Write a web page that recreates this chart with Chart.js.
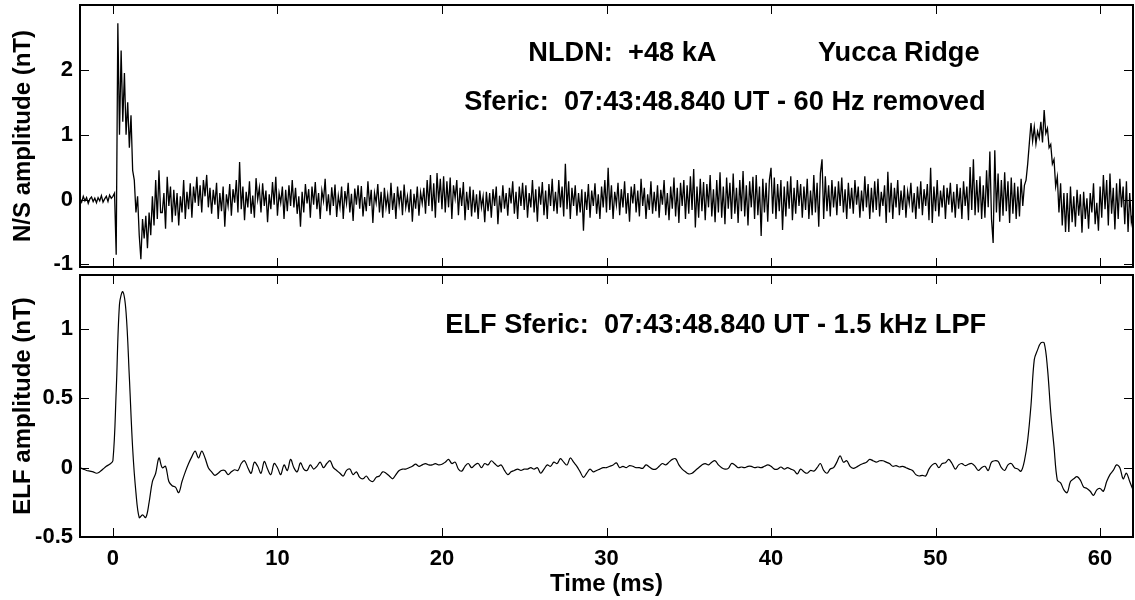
<!DOCTYPE html>
<html>
<head>
<meta charset="utf-8">
<title>Sferic waveforms</title>
<script src="https://cdn.jsdelivr.net/npm/chart.js@4/dist/chart.umd.min.js"></script>
<style>
  html, body { margin: 0; padding: 0; background: #fff; }
  .panel { position: absolute; left: 0; width: 1135px; }
  #nsPanel { top: 0; height: 270px; }
  #elfPanel { top: 270px; height: 330px; }
</style>
</head>
<body>
<div class="panel" id="nsPanel"><canvas id="nsChart" width="1135" height="270"></canvas></div>
<div class="panel" id="elfPanel"><canvas id="elfChart" width="1135" height="330"></canvas></div>
<script>
// Two stacked panels: broadband N/S sferic (60 Hz removed) and its 1.5 kHz low-passed ELF part

var X_TICKS = [0, 10, 20, 30, 40, 50, 60];
var NS_Y_TICKS = [-1, 0, 1, 2];
var ELF_Y_TICKS = [-0.5, 0, 0.5, 1];

// N/S record, one sample every 0.1 ms starting at -2 ms
var NS_T0 = -2;
var NS_DT = 0.1;
var NS_VALUES = [
  0.02, -0.04, 0.05, -0.02, 0.03, -0.06, 0.01, 0.04, -0.03, 0.02,   // -2 ms
  -0.05, 0.03, -0.02, 0.06, -0.04, 0.01, 0.05, -0.03, 0.07, 0.02,   // -1
  0.05, 0.1, -0.85, 2.72, 1.0, 2.3, 1.2, 1.95, 1.0, 1.5,            // 0
  0.8, 1.3, 0.45, 0.3, -0.2, 0.05, -0.55, -0.92, -0.3, -0.6,        // 1
  -0.25, -0.75, -0.2, -0.55, 0.05, -0.4, 0.3, -0.3, 0.45, -0.2,     // 2
  -0.2, 0.1, -0.45, 0.35, -0.1, 0.2, -0.35, 0.15, -0.25, 0.1,       // 3
  -0.4, 0.05, -0.2, 0.3, -0.3, 0.12, -0.15, 0.25, -0.28, 0.2,       // 4
  -0.05, 0.35, -0.1, 0.22, -0.2, 0.3, 0.05, 0.38, -0.12, 0.18,      // 5
  -0.22, 0.15, -0.08, 0.26, -0.3, 0.1, -0.18, 0.2, -0.42, 0.08,     // 6
  -0.1, 0.24, -0.25, 0.16, -0.05, 0.3, -0.2, 0.58, -0.15, 0.2,      // 7
  -0.32, 0.12, -0.12, 0.28, -0.22, 0.06, -0.28, 0.33, 0.0, 0.18,    // 8
  -0.2, 0.25, -0.1, 0.14, -0.35, 0.08, -0.15, 0.27, -0.08, 0.35,    // 9
  -0.25, 0.1, -0.05, 0.2, -0.3, 0.15, -0.18, 0.22, -0.1, 0.3,       // 10
  -0.12, 0.18, -0.22, 0.05, -0.42, 0.12, -0.2, 0.24, -0.06, 0.16,   // 11
  -0.28, 0.2, -0.08, 0.27, -0.15, 0.1, -0.3, 0.14, -0.02, 0.32,     // 12
  -0.18, 0.08, -0.24, 0.19, -0.1, 0.23, -0.27, 0.06, -0.12, 0.2,    // 13
  -0.3, 0.13, -0.06, 0.26, -0.2, 0.09, -0.33, 0.17, -0.08, 0.22,    // 14
  -0.14, 0.21, -0.26, 0.04, -0.18, 0.28, -0.1, 0.15, -0.36, 0.1,    // 15
  -0.05, 0.24, -0.2, 0.12, -0.28, 0.18, -0.12, 0.07, -0.22, 0.26,   // 16
  -0.16, 0.1, -0.3, 0.2, -0.08, 0.14, -0.24, 0.23, -0.12, 0.05,     // 17
  -0.2, 0.16, -0.34, 0.09, -0.14, 0.2, -0.25, 0.11, -0.06, 0.18,    // 18
  -0.22, 0.3, -0.1, 0.38, -0.18, 0.25, -0.28, 0.41, -0.05, 0.32,    // 19
  -0.15, 0.36, -0.2, 0.28, -0.12, 0.34, -0.3, 0.22, 0.02, 0.3,      // 20
  -0.24, 0.18, -0.1, 0.27, -0.32, 0.12, -0.16, 0.2, -0.26, 0.15,    // 21
  -0.2, 0.08, -0.3, 0.14, -0.12, 0.05, -0.35, 0.12, -0.18, 0.1,     // 22
  -0.28, 0.16, -0.1, 0.2, -0.38, 0.06, -0.2, 0.22, -0.14, 0.1,      // 23
  -0.25, 0.18, -0.06, 0.28, -0.22, 0.12, -0.3, 0.2, -0.1, 0.26,     // 24
  -0.16, 0.22, -0.28, 0.1, -0.12, 0.3, -0.2, 0.16, -0.34, 0.2,      // 25
  -0.08, 0.27, -0.24, 0.14, -0.3, 0.24, -0.1, 0.32, -0.18, 0.12,    // 26
  -0.22, 0.3, -0.12, 0.2, -0.26, 0.55, -0.15, 0.28, -0.3, 0.18,     // 27
  -0.1, 0.22, -0.25, 0.1, -0.2, 0.16, -0.48, 0.12, -0.16, 0.24,     // 28
  -0.28, 0.14, -0.1, 0.25, -0.22, 0.08, -0.3, 0.2, -0.12, 0.3,      // 29
  -0.2, 0.49, -0.16, 0.22, -0.3, 0.12, -0.08, 0.26, -0.24, 0.16,    // 30
  -0.12, 0.28, -0.22, 0.1, -0.34, 0.2, -0.06, 0.24, -0.2, 0.14,     // 31
  -0.26, 0.32, -0.1, 0.18, -0.3, 0.08, -0.16, 0.28, -0.22, 0.12,    // 32
  -0.18, 0.22, -0.28, 0.15, -0.08, 0.3, -0.24, 0.1, -0.32, 0.2,     // 33
  -0.14, 0.34, -0.26, 0.18, -0.36, 0.26, -0.1, 0.3, -0.3, 0.22,     // 34
  -0.22, 0.36, -0.16, 0.47, -0.43, 0.2, -0.28, 0.32, -0.18, 0.27,   // 35
  -0.32, 0.24, -0.12, 0.38, -0.26, 0.16, -0.35, 0.3, -0.2, 0.42,    // 36
  -0.28, 0.2, -0.38, 0.34, -0.14, 0.26, -0.3, 0.4, -0.22, 0.18,     // 37
  -0.36, 0.3, -0.18, 0.44, -0.26, 0.22, -0.4, 0.28, -0.12, 0.35,    // 38
  -0.3, 0.38, -0.24, 0.2, -0.56, 0.32, -0.2, 0.26, -0.34, 0.3,      // 39
  0.49, -0.22, 0.34, -0.3, 0.24, -0.18, 0.3, -0.47, 0.2, -0.26,     // 40
  0.28, -0.14, 0.36, -0.32, 0.18, -0.22, 0.3, -0.1, 0.24, -0.28,    // 41
  0.2, -0.16, 0.32, -0.3, 0.14, -0.24, 0.38, -0.2, 0.26, -0.42,     // 42
  0.4, 0.62, -0.3, 0.36, -0.18, 0.22, -0.26, 0.3, -0.12, 0.2,       // 43
  -0.24, 0.28, -0.1, 0.34, -0.2, 0.16, -0.3, 0.26, -0.14, 0.18,     // 44
  -0.22, 0.3, -0.08, 0.2, -0.28, 0.14, -0.18, 0.36, -0.12, 0.24,    // 45
  -0.3, 0.18, -0.2, 0.28, -0.16, 0.32, -0.26, 0.12, -0.1, 0.22,     // 46
  -0.36, 0.43, -0.2, 0.26, -0.3, 0.18, -0.12, 0.3, -0.24, 0.14,     // 47
  -0.16, 0.22, -0.28, 0.12, -0.06, 0.26, -0.2, 0.1, -0.3, 0.2,      // 48
  -0.14, 0.28, -0.24, 0.16, -0.1, 0.24, -0.32, 0.49, -0.36, 0.2,    // 49
  -0.18, 0.3, -0.26, 0.14, -0.12, 0.22, -0.3, 0.18, -0.08, 0.26,    // 50
  -0.2, 0.12, -0.28, 0.24, -0.14, 0.18, -0.3, 0.28, -0.1, 0.2,      // 51
  -0.32, 0.5, -0.16, 0.62, -0.24, 0.3, -0.2, 0.36, -0.3, 0.22,      // 52
  -0.28, 0.45, -0.12, 0.74, -0.3, -0.67, 0.76, -0.2, 0.4, -0.34,    // 53
  0.3, -0.25, 0.42, -0.18, 0.28, -0.36, 0.34, -0.22, 0.26, -0.3,    // 54
  0.2, -0.26, 0.32, -0.1, 0.22, 0.3, 0.55, 0.87, 1.18, 0.9,         // 55
  1.12, 0.86, 1.05, 0.95, 1.2, 0.88, 1.38, 1.02, 1.1, 0.8,          // 56
  0.85, 0.55, 0.62, 0.2, 0.35, -0.2, 0.25, -0.4, 0.1, -0.5,         // 57
  0.1, -0.5, 0.2, -0.35, 0.05, -0.42, 0.15, -0.25, 0.08, -0.51,     // 58
  0.12, -0.3, 0.02, -0.45, 0.1, -0.2, 0.25, -0.38, -0.05, -0.48,    // 59
  0.2, -0.28, 0.38, -0.15, 0.3, -0.4, 0.4, -0.22, 0.18, -0.46,      // 60
  0.25, -0.3, 0.32, -0.12, 0.2, -0.38, 0.28, -0.5, 0.1, -0.35,      // 61
  -0.2                                                              // 62
];

// low-passed ELF record, one sample every 0.2 ms starting at -2 ms
var ELF_T0 = -2;
var ELF_DT = 0.2;
var ELF_VALUES = [
  0.0, -0.01, -0.02, -0.025, -0.03, -0.04, -0.03, -0.01, 0.01, 0.025,       // -2 ms
  0.05, 0.55, 1.18, 1.27, 1.12, 0.65, 0.14, -0.18, -0.36, -0.34,            // 0
  -0.36, -0.25, -0.1, -0.04, 0.07, 0.0, 0.01, -0.1, -0.13, -0.14,           // 2
  -0.18, -0.1, -0.03, 0.03, 0.08, 0.12, 0.07, 0.12, 0.07, 0.0,              // 4
  -0.03, -0.055, -0.04, -0.02, -0.02, -0.05, -0.03, -0.015, -0.02, 0.03,    // 6
  0.05, 0.0, -0.04, 0.04, 0.01, -0.04, 0.045, -0.01, -0.05, 0.03,           // 8
  0.0, -0.05, 0.02, -0.02, 0.06, 0.0, -0.03, 0.035, -0.01, -0.02,           // 10
  0.02, -0.01, 0.01, 0.04, 0.0, 0.03, 0.05, 0.0, -0.02, -0.04,              // 12
  -0.06, -0.02, -0.01, -0.05, -0.03, -0.07, -0.08, -0.06, -0.09, -0.1,      // 14
  -0.07, -0.06, -0.03, -0.04, -0.06, -0.08, -0.05, -0.02, -0.01, -0.01,     // 16
  0.0, 0.01, 0.025, 0.01, 0.02, 0.03, 0.02, 0.02, 0.03, 0.02,               // 18
  0.025, 0.04, 0.06, 0.03, 0.04, -0.01, -0.025, 0.01, 0.03, 0.0,            // 20
  0.02, 0.03, 0.0, 0.03, 0.02, 0.05, 0.03, 0.01, 0.02, -0.02,               // 22
  -0.05, -0.03, -0.02, -0.01, -0.02, -0.01, -0.01, 0.0, -0.01, 0.0,         // 24
  -0.04, -0.01, 0.02, 0.01, 0.04, 0.03, 0.065, 0.04, 0.02, 0.07,            // 26
  0.04, 0.01, -0.03, -0.07, -0.04, -0.01, -0.03, -0.02, -0.01, 0.0,         // 28
  0.0, 0.01, 0.02, 0.035, 0.0, 0.01, 0.0, 0.015, 0.01, 0.0,                 // 30
  0.0, -0.005, 0.02, 0.005, -0.01, -0.01, 0.01, 0.03, 0.02, 0.04,           // 32
  0.06, 0.065, 0.02, -0.01, -0.03, -0.045, -0.04, -0.02, 0.0, 0.02,         // 34
  0.03, 0.02, 0.04, 0.05, 0.02, 0.0, -0.01, -0.005, 0.03, 0.02,             // 36
  0.0, 0.005, 0.0, 0.01, 0.01, 0.0, 0.005, 0.0, 0.01, 0.02,                 // 38
  0.01, -0.01, -0.01, 0.005, -0.01, 0.0, -0.01, -0.02, -0.045, -0.01,       // 40
  -0.03, -0.04, -0.02, -0.025, 0.0, 0.03, -0.02, -0.04, -0.01, 0.0,         // 42
  0.04, 0.085, 0.04, 0.05, 0.01, -0.005, 0.005, 0.02, 0.03, 0.04,           // 44
  0.06, 0.05, 0.04, 0.05, 0.05, 0.04, 0.03, 0.01, 0.015, 0.005,             // 46
  0.01, 0.0, -0.01, -0.02, -0.05, -0.06, -0.055, -0.06, -0.01, 0.02,        // 48
  0.03, 0.0, 0.03, 0.035, 0.06, 0.03, -0.01, 0.02, 0.03, 0.015,             // 50
  0.025, 0.03, 0.01, -0.02, 0.0, 0.01, -0.02, 0.04, 0.05, 0.045,            // 52
  0.0, -0.02, 0.02, 0.03, 0.0, -0.01, -0.025, 0.05, 0.2, 0.45,              // 54
  0.78, 0.85, 0.9, 0.9, 0.72, 0.4, 0.15, -0.09, -0.11, -0.16,               // 56
  -0.18, -0.1, -0.08, -0.065, -0.09, -0.14, -0.15, -0.17, -0.2, -0.16,      // 58
  -0.15, -0.17, -0.1, -0.05, -0.02, 0.02, 0.0, -0.08, -0.04, -0.1,          // 60
  -0.16                                                                     // 62
];

var NS_NOTES = [
  { text: 'NLDN:  +48 kA', x: 25.25, y: 2.14 },
  { text: 'Yucca Ridge', x: 42.85, y: 2.14 },
  { text: 'Sferic:  07:43:48.840 UT - 60 Hz removed', x: 21.35, y: 1.385 }
];
var ELF_NOTES = [
  { text: 'ELF Sferic:  07:43:48.840 UT - 1.5 kHz LPF', x: 20.2, y: 0.968 }
];

var FONT_FAMILY = '"Liberation Sans", Arial, Helvetica, sans-serif';
var TICK_FONT = { family: FONT_FAMILY, size: 22, weight: 'bold' };
var TITLE_FONT = { family: FONT_FAMILY, size: 24, weight: 'bold' };
var NOTE_FONT = 'bold 27.2px ' + FONT_FAMILY;

function toPoints(t0, dt, values) {
  return values.map(function(v, i) {
    return { x: Math.round((t0 + i * dt) * 1000) / 1000, y: v };
  });
}

// frame, inward tick marks on all four sides, and the text notes
var boxPlugin = {
  id: 'box',
  afterDatasetsDraw: function(chart, args, opts) {
    var ctx = chart.ctx;
    var a = chart.chartArea;
    var xs = chart.scales.x;
    var ys = chart.scales.y;
    var len = 9;
    ctx.save();
    ctx.strokeStyle = '#000';
    ctx.lineWidth = 1;
    ctx.beginPath();
    X_TICKS.forEach(function(t) {
      var px = Math.round(xs.getPixelForValue(t)) + 0.5;
      ctx.moveTo(px, a.bottom);
      ctx.lineTo(px, a.bottom - len);
      ctx.moveTo(px, a.top);
      ctx.lineTo(px, a.top + len);
    });
    opts.yTicks.forEach(function(v) {
      var py = Math.round(ys.getPixelForValue(v)) + 0.5;
      ctx.moveTo(a.left, py);
      ctx.lineTo(a.left + len, py);
      ctx.moveTo(a.right, py);
      ctx.lineTo(a.right - len, py);
    });
    ctx.stroke();

    ctx.lineWidth = 2;
    ctx.strokeRect(a.left, a.top, a.right - a.left, a.bottom - a.top);

    ctx.fillStyle = '#000';
    ctx.font = NOTE_FONT;
    ctx.textAlign = 'left';
    ctx.textBaseline = 'alphabetic';
    opts.notes.forEach(function(n) {
      ctx.fillText(n.text, xs.getPixelForValue(n.x), ys.getPixelForValue(n.y));
    });
    ctx.restore();
  }
};

// the plot boxes keep a fixed size: no room reserved for overhanging tick labels
function fixVertical(scale) {
  scale.width = 80;
  scale.paddingTop = 0;
  scale.paddingBottom = 0;
}

function fixHorizontal(scale) {
  scale.height = 63;
  scale.paddingLeft = 0;
  scale.paddingRight = 0;
}

function yAxis(min, max, ticks, title) {
  return {
    min: min,
    max: max,
    afterBuildTicks: function(scale) {
      scale.ticks = ticks.map(function(v) { return { value: v }; });
    },
    afterFit: fixVertical,
    grid: { display: false, drawTicks: false },
    border: { display: false },
    ticks: {
      color: '#000',
      font: TICK_FONT,
      padding: 7,
      autoSkip: false,
      callback: function(v) { return String(v); }
    },
    title: {
      display: true,
      text: title,
      color: '#000',
      font: TITLE_FONT,
      padding: { top: 9, bottom: 0 }
    }
  };
}

function baseOptions(padding) {
  return {
    responsive: false,
    devicePixelRatio: 1,
    animation: false,
    events: [],
    layout: { padding: padding },
    plugins: {
      legend: { display: false },
      tooltip: { enabled: false }
    }
  };
}

var nsOptions = baseOptions({ top: 5, right: 2, bottom: 3, left: 0 });
nsOptions.scales = {
  x: { type: 'linear', min: -2, max: 62, display: false },
  y: yAxis(-1.04, 3.0, NS_Y_TICKS, 'N/S amplitude (nT)')
};
nsOptions.plugins.box = { yTicks: NS_Y_TICKS, notes: NS_NOTES };

new Chart(document.getElementById('nsChart'), {
  type: 'line',
  data: {
    datasets: [{
      data: toPoints(NS_T0, NS_DT, NS_VALUES),
      borderColor: '#000',
      borderWidth: 1.3,
      pointRadius: 0,
      tension: 0,
      fill: false
    }]
  },
  options: nsOptions,
  plugins: [boxPlugin]
});

var elfOptions = baseOptions({ top: 5, right: 2, bottom: 0, left: 0 });
elfOptions.scales = {
  x: {
    type: 'linear',
    min: -2,
    max: 62,
    afterBuildTicks: function(scale) {
      scale.ticks = X_TICKS.map(function(v) { return { value: v }; });
    },
    afterFit: fixHorizontal,
    grid: { display: false, drawTicks: false },
    border: { display: false },
    ticks: {
      color: '#000',
      font: TICK_FONT,
      padding: 9,
      autoSkip: false,
      maxRotation: 0,
      callback: function(v) { return String(v); }
    },
    title: {
      display: true,
      text: 'Time (ms)',
      color: '#000',
      font: TITLE_FONT,
      padding: { top: 0, bottom: 1 }
    }
  },
  y: yAxis(-0.5, 1.39, ELF_Y_TICKS, 'ELF amplitude (nT)')
};
elfOptions.plugins.box = { yTicks: ELF_Y_TICKS, notes: ELF_NOTES };

new Chart(document.getElementById('elfChart'), {
  type: 'line',
  data: {
    datasets: [{
      data: toPoints(ELF_T0, ELF_DT, ELF_VALUES),
      borderColor: '#000',
      borderWidth: 1.2,
      pointRadius: 0,
      tension: 0.35,
      fill: false
    }]
  },
  options: elfOptions,
  plugins: [boxPlugin]
});
</script>
</body>
</html>
